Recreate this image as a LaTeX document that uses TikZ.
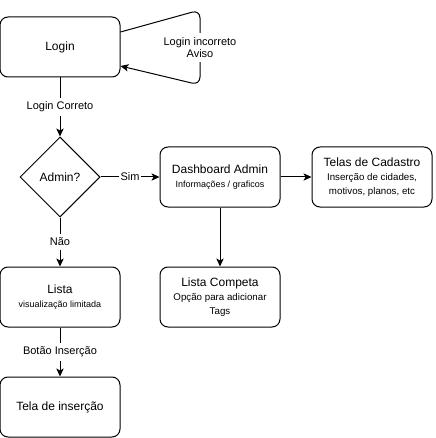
\documentclass[tikz,border=0pt]{standalone}
\usepackage{fontspec}
\setmainfont{Liberation Sans}
\usetikzlibrary{arrows.meta,calc,shapes.geometric}
\tikzstyle{flowChart} = [x = 0.75pt, y = -0.75pt, line width = 0.75pt]
\tikzstyle{screenBox} = [draw, rounded corners = 6pt, minimum width = 90pt, minimum height = 45pt, align = center, inner sep = 0pt, font = \fontsize{9}{10.5}\selectfont]
\tikzstyle{decisionBox} = [draw, diamond, aspect = 1, minimum width = 60pt, minimum height = 60pt, inner sep = 0pt, font = \fontsize{9}{10.5}\selectfont]
\tikzstyle{flowArrow} = [draw, -{Stealth[length = 6pt, width = 5.5pt, inset = 1.5pt]}]
\tikzstyle{edgeLabel} = [fill = white, inner xsep = 1.2pt, inner ysep = 3pt, align = center, midway, font = \fontsize{8.25}{9}\selectfont]
\newcommand{\infoLine}[1]{{\fontsize{6.75}{10.5}\selectfont #1}}
\newcommand{\noteLine}[1]{{\fontsize{7.3}{10.5}\selectfont #1}}

\begin{document}
\begin{tikzpicture}[flowChart]
  \useasboundingbox (0,0) rectangle (435,438);
  % screens
  \node [screenBox] (login) at (60,47) {Login};
  \node [decisionBox] (admin) at (60,177) {Admin?};
  \node [screenBox] (dashboard) at (220,177) {Dashboard Admin\\\infoLine{Informações / graficos}};
  \node [screenBox] (cadastro) at (372,177) {Telas de Cadastro\\\noteLine{Inserção de cidades,}\\\noteLine{motivos, planos, etc}};
  \node [screenBox] (listaCompleta) at (220,297) {Lista Competa\\\noteLine{Opção para adicionar}\\\noteLine{Tags}};
  \node [screenBox] (lista) at (60,297) {Lista\\\infoLine{visualização limitada}};
  \node [screenBox] (insercao) at (60,407) {Tela de inserção};

  % loop back
  \coordinate (loopTop) at (200,10);
  \coordinate (loopBottom) at (200,85);
  \draw [flowArrow, rounded corners = 6pt] ($(login.east) + (0,-15)$) -- (loopTop)
    -- (loopBottom) -- ($(login.east) + (0,19)$);
  \path (loopTop) -- node [edgeLabel] {Login incorreto\\Aviso} (loopBottom);

  % connectors
  \draw [flowArrow] (login) -- node [edgeLabel] {Login Correto} (admin);
  \draw [flowArrow] (admin) -- node [edgeLabel] {Sim} (dashboard);
  \draw [flowArrow] (admin) -- node [edgeLabel] {Não} (lista);
  \draw [flowArrow] (dashboard) -- (cadastro);
  \draw [flowArrow] (dashboard) -- (listaCompleta);
  \draw [flowArrow] (lista) -- node [edgeLabel] {Botão Inserção} (insercao);
\end{tikzpicture}
\end{document}
